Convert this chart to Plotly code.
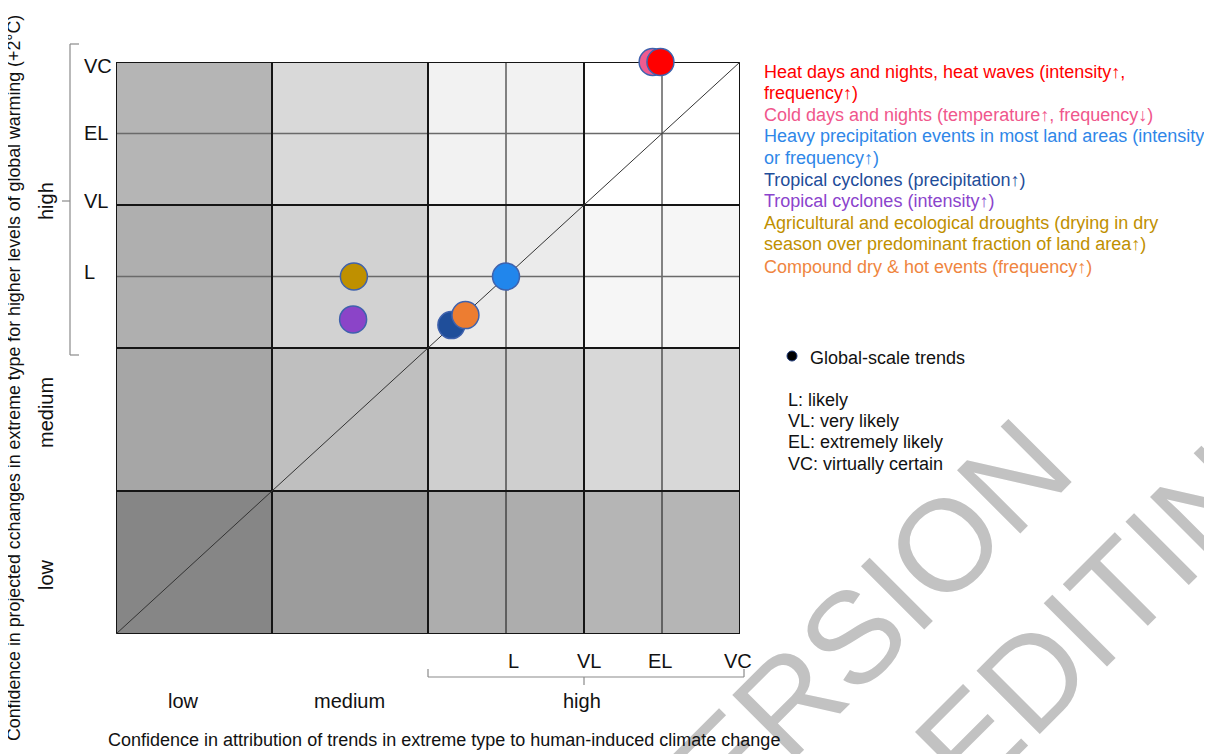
import plotly.graph_objects as go

# ---------------- data ----------------
# confidence scale on both axes: 0-1 low, 1-2 medium, 2-4 high (2.5 L, 3 VL, 3.5 EL, 4 VC)
col_edges = [0, 1, 2, 3, 4]
row_edges = [0, 1, 2, 3, 4]
col_centers = [0.5, 1.5, 2.5, 3.5]
row_centers = [0.5, 1.5, 2.5, 3.5]
# grey level (0-255) of each cell, rows bottom -> top, columns left -> right
cell_grey = [
    [134, 156, 173, 181],
    [166, 191, 207, 216],
    [175, 210, 235, 246],
    [181, 217, 242, 255],
]

extreme_types = [
    "Cold days and nights (temperature↑, frequency↓)",
    "Heat days and nights, heat waves (intensity↑, frequency↑)",
    "Heavy precipitation events in most land areas (intensity or frequency↑)",
    "Tropical cyclones (precipitation↑)",
    "Compound dry & hot events (frequency↑)",
    "Tropical cyclones (intensity↑)",
    "Agricultural and ecological droughts (drying in dry season over predominant fraction of land area↑)",
]
attribution_conf = [3.44, 3.49, 2.50, 2.15, 2.24, 1.52, 1.525]
projection_conf = [4.00, 4.00, 2.50, 2.16, 2.23, 2.20, 2.50]
marker_colors = ["#ef5b8f", "#ff0000", "#2186ec", "#1f4e9a", "#ed7d31", "#8b44c8", "#bf9000"]

legend_lines = [
    ("Heat days and nights, heat waves (intensity↑,", "#ff0000"),
    ("frequency↑)", "#ff0000"),
    ("Cold days and nights (temperature↑, frequency↓)", "#f0578c"),
    ("Heavy precipitation events in most land areas (intensity", "#2f87e8"),
    ("or frequency↑)", "#2f87e8"),
    ("Tropical cyclones (precipitation↑)", "#1f4e9a"),
    ("Tropical cyclones (intensity↑)", "#8b44cc"),
    ("Agricultural and ecological droughts (drying in dry", "#bf9000"),
    ("season over predominant fraction of land area↑)", "#bf9000"),
    ("Compound dry & hot events (frequency↑)", "#ef8540"),
]
likelihood_ticks = ["L", "VL", "EL", "VC"]
abbreviations = ["L: likely", "VL: very likely", "EL: extremely likely", "VC: virtually certain"]
conf_levels = ["low", "medium", "high"]

FONT = "Liberation Sans, Arial, Helvetica, sans-serif"
# page body has an 8px margin, so the figure is drawn 8px in from the window corner
W, H = 1204, 746
L, T, PW, PH = 108, 54, 624, 572
RL, RT = 116, 62  # plot area corner in window pixels


def px(x):
    return (x - RL) / PW


def py(y):
    return (RT + PH - y) / PH


fig = go.Figure()

# cells
fig.add_trace(go.Heatmap(
    x=col_centers, y=row_centers, z=cell_grey,
    colorscale=[[0, "rgb(0,0,0)"], [1, "rgb(255,255,255)"]],
    zmin=0, zmax=255, showscale=False, hoverinfo="skip", xgap=0, ygap=0,
))


def line_trace(xs, ys, color, width):
    fig.add_trace(go.Scatter(x=xs, y=ys, mode="lines", cliponaxis=False,
                             line=dict(color=color, width=width),
                             hoverinfo="skip", showlegend=False))


# thin vertical lines (L, EL)
xs, ys = [], []
for v in [2.5, 3.5]:
    xs += [v, v, None]
    ys += [0, 4, None]
line_trace(xs, ys, "#111111", 1)
# grey horizontal lines (L, EL)
xs, ys = [], []
for v in [2.5, 3.5]:
    xs += [0, 4, None]
    ys += [v, v, None]
line_trace(xs, ys, "#6a6a6a", 1.5)
# thick borders
xs, ys = [], []
for v in col_edges:
    xs += [v, v, None]
    ys += [0, 4, None]
for v in row_edges:
    xs += [0, 4, None]
    ys += [v, v, None]
line_trace(xs, ys, "#151515", 2)
# diagonal
line_trace([0, 4], [0, 4], "#333333", 1)

# markers
for name, xv, yv, c in zip(extreme_types, attribution_conf, projection_conf, marker_colors):
    fig.add_trace(go.Scatter(
        x=[xv], y=[yv], mode="markers", name=name, cliponaxis=False,
        marker=dict(size=27, color=c, line=dict(color="#3f62ad", width=1.5)),
        showlegend=False,
    ))

ann = []
shapes = []

# watermark
ann.append(dict(text="VERSION", x=px(840), y=py(650), xref="paper", yref="paper",
                showarrow=False, textangle=-45, xanchor="center", yanchor="middle",
                font=dict(family=FONT, size=130, color="#c2c2c2")))
ann.append(dict(text="EDITING", x=px(1125), y=py(585), xref="paper", yref="paper",
                showarrow=False, textangle=-45, xanchor="center", yanchor="middle",
                font=dict(family=FONT, size=130, color="#c2c2c2")))

# legend text lines
leg_y = [72, 93, 115, 136, 158, 180, 201, 223, 244, 267]
for (txt, c), yy in zip(legend_lines, leg_y):
    ann.append(dict(text=txt, x=px(762), y=py(yy), xref="paper", yref="paper",
                    showarrow=False, xanchor="left", yanchor="middle",
                    font=dict(family=FONT, size=18, color=c)))

# global-scale trends key
shapes.append(dict(type="circle", xref="paper", yref="paper",
                   x0=px(787), x1=px(797), y0=py(351), y1=py(361),
                   fillcolor="#000000", line=dict(color="#1f3a7a", width=1)))
ann.append(dict(text="Global-scale trends", x=px(808), y=py(358), xref="paper", yref="paper",
                showarrow=False, xanchor="left", yanchor="middle",
                font=dict(family=FONT, size=18, color="#111111")))
for txt, yy in zip(abbreviations, [400, 421, 442, 464]):
    ann.append(dict(text=txt, x=px(786), y=py(yy), xref="paper", yref="paper",
                    showarrow=False, xanchor="left", yanchor="middle",
                    font=dict(family=FONT, size=18, color="#111111")))

# y tick labels (likelihood)
for txt, yy in zip(likelihood_ticks, [272, 201, 133, 66]):
    ann.append(dict(text=txt, x=px(82), y=py(yy), xref="paper", yref="paper",
                    showarrow=False, xanchor="left", yanchor="middle",
                    font=dict(family=FONT, size=20, color="#111111")))
# x tick labels (likelihood)
for txt, xx in zip(likelihood_ticks, [513, 589, 660, 738]):
    ann.append(dict(text=txt, x=px(xx), y=py(661), xref="paper", yref="paper",
                    showarrow=False, xanchor="center", yanchor="middle",
                    font=dict(family=FONT, size=20, color="#111111")))

# y confidence levels (rotated)
for txt, yy in zip(conf_levels, [575, 413, 201]):
    ann.append(dict(text=txt, x=px(46), y=py(yy), xref="paper", yref="paper",
                    showarrow=False, textangle=-90, xanchor="center", yanchor="middle",
                    font=dict(family=FONT, size=20, color="#111111")))
# x confidence levels
for txt, xx in zip(conf_levels, [183, 349, 582]):
    ann.append(dict(text=txt, x=px(xx), y=py(701), xref="paper", yref="paper",
                    showarrow=False, xanchor="center", yanchor="middle",
                    font=dict(family=FONT, size=20, color="#111111")))

# axis titles
ann.append(dict(text="Confidence in attribution of trends in extreme type to human-induced climate change",
                x=px(444), y=py(740), xref="paper", yref="paper", showarrow=False,
                xanchor="center", yanchor="middle",
                font=dict(family=FONT, size=18, color="#111111")))
ann.append(dict(text="Confidence in projected cchanges in extreme type for higher levels of global warming (+2°C)",
                x=px(14), y=py(378), xref="paper", yref="paper", showarrow=False, textangle=-90,
                xanchor="center", yanchor="middle",
                font=dict(family=FONT, size=17.8, color="#111111")))

# brackets
BR = dict(color="#8a8a8a", width=1.2)


def seg(x0, y0, x1, y1):
    shapes.append(dict(type="line", xref="paper", yref="paper",
                       x0=px(x0), y0=py(y0), x1=px(x1), y1=py(y1), line=BR))


seg(70, 44, 70, 355)
seg(70, 44, 79, 44)
seg(70, 355, 79, 355)
seg(62, 201, 70, 201)
seg(428, 677, 744, 677)
seg(428, 677, 428, 669)
seg(744, 677, 744, 669)
seg(584, 677, 584, 685)

fig.update_layout(
    width=W, height=H,
    margin=dict(l=L, r=W - L - PW, t=T, b=H - T - PH, pad=0),
    paper_bgcolor="white", plot_bgcolor="white",
    xaxis=dict(range=[0, 4], showgrid=False, zeroline=False, showticklabels=False,
               ticks="", showline=False, fixedrange=True),
    yaxis=dict(range=[0, 4], showgrid=False, zeroline=False, showticklabels=False,
               ticks="", showline=False, fixedrange=True),
    annotations=ann, shapes=shapes, showlegend=False,
    font=dict(family=FONT),
)

fig.write_html("out.html")
